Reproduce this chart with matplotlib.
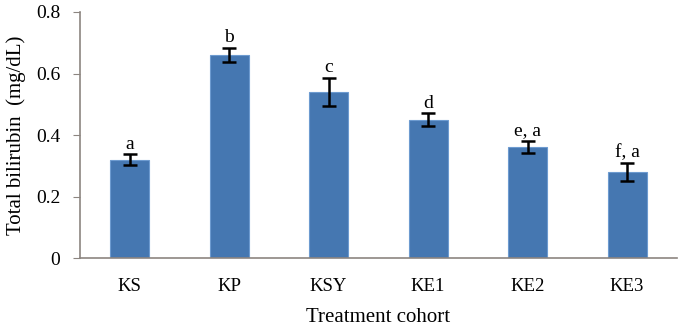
import matplotlib
matplotlib.use('Agg')
import matplotlib.pyplot as plt
import numpy as np

cohorts = ['KS', 'KP', 'KSY', 'KE1', 'KE2', 'KE3']
bilirubin = [0.32, 0.66, 0.54, 0.45, 0.36, 0.28]
err = [0.017, 0.022, 0.047, 0.02, 0.02, 0.03]
letters = ['a', 'b', 'c', 'd', 'e, a', 'f, a']

plt.rcParams['font.family'] = ['Liberation Serif', 'DejaVu Serif']

fig = plt.figure(figsize=(6.83, 3.33), dpi=100)
ax = fig.add_axes([0.117, 0.225, 0.874, 0.739])

x = np.arange(len(cohorts))
ax.bar(x, bilirubin, width=0.39, color='#4577b1', edgecolor='#6d9bd0', linewidth=0.8,
       yerr=err, error_kw=dict(ecolor='black', elinewidth=1.8, capsize=5, capthick=1.8))

for xi, v, e, t in zip(x, bilirubin, err, letters):
    ax.text(xi, v + e + 0.006, t, ha='center', va='bottom', fontsize=14)

ax.set_xlim(-0.5, 5.5)
ax.set_ylim(0, 0.8)
ax.set_yticks([0, 0.2, 0.4, 0.6, 0.8])
ax.set_yticklabels(['0', '0.2', '0.4', '0.6', '0.8'], fontsize=14)
ax.set_xticks(x)
ax.set_xticklabels(cohorts, fontsize=13.5)
ax.tick_params(axis='x', length=0, pad=14)
ax.tick_params(axis='y', length=5, color='#8c8580', pad=9)

for s in ['top', 'right']:
    ax.spines[s].set_visible(False)
for s in ['left', 'bottom']:
    ax.spines[s].set_color('#8c8580')
    ax.spines[s].set_linewidth(1.2)

ax.set_ylabel('Total bilirubin  (mg/dL)', fontsize=15, labelpad=7)
ax.set_xlabel('Treatment cohort', fontsize=15, labelpad=10)

fig.savefig('out.png', dpi=100)
